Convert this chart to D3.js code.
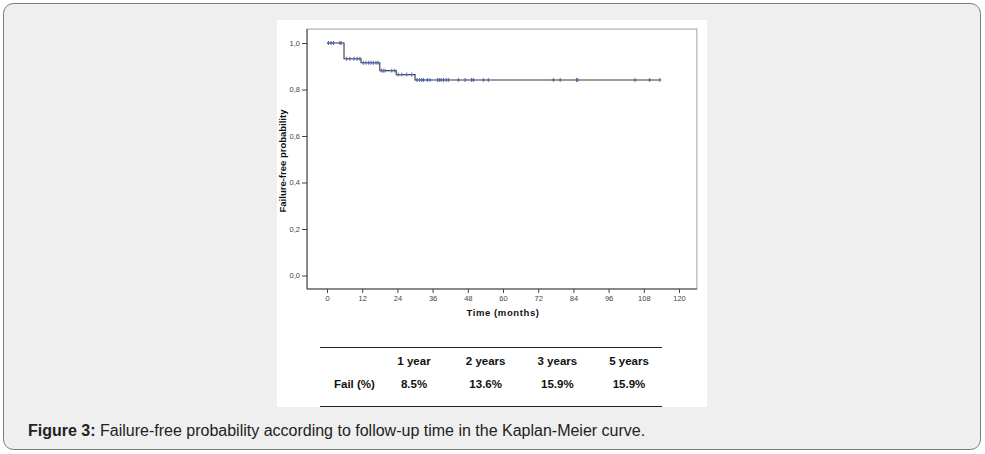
<!DOCTYPE html>
<html lang="en">
<head>
<meta charset="UTF-8">
<script src="https://cdn.jsdelivr.net/npm/d3@7/dist/d3.min.js"></script>
<title>Kaplan-Meier</title>
<style>
    body { margin: 0; background: #fff; }
    svg { display: block; font-family: "Liberation Sans", Arial, sans-serif; }
</style>
</head>
<body>
<script>
// step curve: time of each failure and survival after it
let stepTimes = [0, 5.8, 11.6, 18, 23.6, 30]
let stepSurv = [1.0, 0.932, 0.915, 0.881, 0.864, 0.841]
// censored times
let censored = [0.5, 1.4, 2.2, 4.4, 4.8,
    6.7, 7.8, 9.2, 10.3, 11.2,
    12.4, 13.3, 14.2, 15, 15.8, 16.7, 17.4,
    18.6, 19.2, 19.8, 22.1, 23.1,
    24.3, 25.5, 27.2, 28.9,
    30.6, 31.5, 32.3, 32.9, 34.2, 35.1, 37.7, 38.3, 38.9, 39.7, 40.6, 41.4,
    44.8, 47.1, 49.3, 49.9, 53.3, 55, 77.2, 79.5, 85.1, 85.4, 105, 110, 113.5]
let xTicks = [0, 12, 24, 36, 48, 60, 72, 84, 96, 108, 120]
let yTicks = [0, 0.2, 0.4, 0.6, 0.8, 1.0]
let tableCols = ["1 year", "2 years", "3 years", "5 years"]
let failPct = ["8.5%", "13.6%", "15.9%", "15.9%"]

let width = 985, height = 454
let svg = d3.select("body").append("svg")
    .attr("width", width)
    .attr("height", height)

// outer panel
svg.append("rect")
    .attr("x", 3.5).attr("y", 3.5)
    .attr("width", 977).attr("height", 446)
    .attr("rx", 10)
    .attr("fill", "#efefef")
    .attr("stroke", "#7a7a7a")
    .attr("stroke-width", 1)

// white figure area
svg.append("rect")
    .attr("x", 277).attr("y", 20)
    .attr("width", 430).attr("height", 387)
    .attr("fill", "#fff")

let x = d3.scaleLinear().domain([0, 120]).range([327, 679])
let y = d3.scaleLinear().domain([0, 1]).range([275.5, 43])

let pLeft = x(-6.8), pRight = x(126.1), pTop = y(1.06), pBottom = y(-0.058)

// frame
svg.append("rect")
    .attr("x", pLeft).attr("y", pTop)
    .attr("width", pRight - pLeft).attr("height", pBottom - pTop)
    .attr("fill", "none")
    .attr("stroke", "#a0a0a0")
    .attr("stroke-width", 1)

// axes
let yAxis = d3.axisLeft(y)
    .tickValues(yTicks)
    .tickSize(5)
    .tickPadding(2)
    .tickFormat(d => d3.format(".1f")(d).replace(".", ","))
let yg = svg.append("g")
    .attr("transform", `translate(${pLeft},0)`)
    .call(yAxis)
yg.select(".domain").attr("d", `M0,${pTop}V${pBottom}`).attr("stroke", "#444")

let xAxis = d3.axisBottom(x)
    .tickValues(xTicks)
    .tickSize(4)
    .tickPadding(3)
let xg = svg.append("g")
    .attr("transform", `translate(0,${pBottom})`)
    .call(xAxis)
xg.select(".domain").attr("d", `M${pLeft},0H${pRight}`).attr("stroke", "#444")

svg.selectAll(".tick line").attr("stroke", "#444")
svg.selectAll(".tick text")
    .attr("fill", "#444")
    .style("font-size", "7.5px")
    .style("font-family", "'Liberation Sans', Arial, sans-serif")

// axis titles
svg.append("text")
    .attr("x", (x(0) + x(120)) / 2).attr("y", 316)
    .attr("text-anchor", "middle")
    .attr("font-size", "9.5px").attr("font-weight", "bold")
    .attr("letter-spacing", "0.6px")
    .attr("fill", "#111")
    .text("Time (months)")

svg.append("text")
    .attr("transform", `translate(286,${(pTop + pBottom) / 2 + 2}) rotate(-90)`)
    .attr("text-anchor", "middle")
    .attr("font-size", "9.5px").attr("font-weight", "bold")
    .attr("fill", "#111")
    .text("Failure-free probability")

// KM step line
let lastT = d3.max(censored)
let pts = []
stepTimes.forEach((t, i) => {
    if (i > 0) pts.push([t, stepSurv[i - 1]])
    pts.push([t, stepSurv[i]])
})
pts.push([lastT, stepSurv[stepSurv.length - 1]])

svg.append("path")
    .attr("d", d3.line().x(d => x(d[0])).y(d => y(d[1]))(pts))
    .attr("fill", "none")
    .attr("stroke", "#3a3a3a")
    .attr("stroke-width", 1.1)

// survival at a given time
let survAt = t => {
    let s = 1
    stepTimes.forEach((st, i) => { if (st <= t) s = stepSurv[i] })
    return s
}

// censor marks
let marks = svg.append("g")
    .attr("stroke", "#5468b0")
    .attr("stroke-width", 1)
marks.selectAll("line.v").data(censored).enter().append("line")
    .attr("class", "v")
    .attr("x1", d => x(d)).attr("x2", d => x(d))
    .attr("y1", d => y(survAt(d)) - 2)
    .attr("y2", d => y(survAt(d)) + 2)
marks.selectAll("line.h").data(censored).enter().append("line")
    .attr("class", "h")
    .attr("x1", d => x(d) - 1.5).attr("x2", d => x(d) + 1.5)
    .attr("y1", d => y(survAt(d)))
    .attr("y2", d => y(survAt(d)))

// table
let tx = d3.scalePoint().domain(tableCols).range([414, 629])
let tbl = svg.append("g")
    .attr("font-size", "11.5px").attr("font-weight", "bold")
    .attr("fill", "#111")
tbl.append("line").attr("x1", 320).attr("x2", 662).attr("y1", 347.5).attr("y2", 347.5)
    .attr("stroke", "#222")
tbl.append("line").attr("x1", 320).attr("x2", 662).attr("y1", 406.5).attr("y2", 406.5)
    .attr("stroke", "#222")
tbl.selectAll("text.h").data(tableCols).enter().append("text")
    .attr("class", "h")
    .attr("x", d => tx(d)).attr("y", 365)
    .attr("text-anchor", "middle")
    .text(d => d)
tbl.selectAll("text.v").data(failPct).enter().append("text")
    .attr("class", "v")
    .attr("x", (d, i) => tx(tableCols[i])).attr("y", 387.5)
    .attr("text-anchor", "middle")
    .text(d => d)
tbl.append("text").attr("x", 334).attr("y", 387.5).text("Fail (%)")

// caption
let cap = svg.append("text")
    .attr("x", 28).attr("y", 435.5)
    .attr("font-size", "16px")
    .attr("fill", "#222")
cap.append("tspan").attr("font-weight", "bold").text("Figure 3:")
cap.append("tspan").text(" Failure-free probability according to follow-up time in the Kaplan-Meier curve.")
</script>
</body>
</html>
